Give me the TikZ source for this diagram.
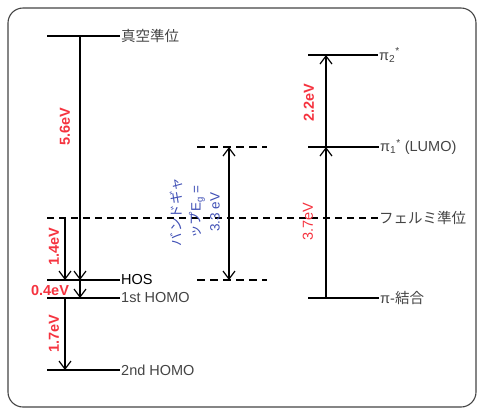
\documentclass[tikz,border=0pt]{standalone}
\usepackage{fontspec}
\setmainfont{Liberation Sans}
\newfontfamily\jpfont{Noto Sans CJK JP}
\usetikzlibrary{arrows.meta}
\definecolor{evred}{HTML}{F5333F}
\definecolor{gapblue}{HTML}{3F4FB5}
\definecolor{lvgray}{HTML}{444444}
\tikzset{
  level/.style={line width=1.7pt},
  fermi/.style={line width=1.7pt, dash pattern=on 7pt off 5pt},
  gapline/.style={line width=1.7pt, dash pattern=on 8pt off 5pt},
  down/.style={line width=1.2pt, -{Straight Barb[length=8pt,width=12pt]}},
  both/.style={line width=1.2pt, {Straight Barb[length=8pt,width=12pt]}-{Straight Barb[length=8pt,width=12pt]}},
  lvlabel/.style={anchor=west, inner sep=1pt, text=lvgray, font=\fontsize{14.5}{16}\selectfont},
  evlabel/.style={text=evred, inner sep=0pt, font=\bfseries\fontsize{14.5}{16}\selectfont},
}
\begin{document}
\begin{tikzpicture}[x=1pt,y=-1pt]
        \useasboundingbox (0,0) rectangle (477,408);
        % Draw frame
        \draw[lvgray, line width=1.1pt, rounded corners=15pt] (8,8) rectangle (476,407);

        % Draw level labels
        \node[lvlabel] (vac) at (120,36) {\jpfont 真空準位};
        \node[lvlabel, text=black] (hos) at (120,280) {HOS};
        \node[lvlabel] (homo1) at (120,298) {1st HOMO};
        \node[lvlabel] (homo2) at (120,370) {2nd HOMO};
        \node[lvlabel] (pi2) at (378,55) {π\textsubscript{2}\textsuperscript{*}};
        \node[lvlabel] (lumo) at (379,147) {π\textsubscript{1}\textsuperscript{*} (LUMO)};
        \node[lvlabel] (fermi) at (378,218) {\jpfont フェルミ準位};
        \node[lvlabel] (pib) at (379,298) {π-{\jpfont 結合}};

        % Draw left ends of the levels
        \coordinate (vacL) at (47,36);
        \coordinate (hosL) at (47,280);
        \coordinate (homo1L) at (47,298);
        \coordinate (homo2L) at (47,370);
        \coordinate (fermiL) at (47,218);
        \coordinate (pi2L) at (308,55);
        \coordinate (lumoL) at (308,147);
        \coordinate (pibL) at (308,298);

        % Draw levels
        \draw[level] (vacL) -- (vac.west);
        \draw[level] (hosL) -- (hos.west);
        \draw[level] (homo1L) -- (homo1.west);
        \draw[level] (homo2L) -- (homo2.west);
        \draw[level] (pi2L) -- (pi2.west);
        \draw[level, line width=2.3pt] (lumoL) -- (lumo.west);
        \draw[level] (pibL) -- (pib.west);
        \draw[fermi] (fermiL) -- (fermi.west);

        % Draw band gap edges
        \coordinate (cbL) at (197,147);
        \coordinate (cbR) at (267,147);
        \coordinate (vbL) at (197,280);
        \coordinate (vbR) at (267,280);
        \draw[gapline] (cbL) -- (cbR);
        \draw[gapline] (vbL) -- (vbR);

        % Draw arrow end points
        \coordinate (a1) at (80,36);
        \coordinate (a2) at (80,280);
        \coordinate (a3) at (80,298);
        \coordinate (b1) at (65,218);
        \coordinate (b2) at (65,280);
        \coordinate (b3) at (65,298);
        \coordinate (b4) at (65,370);
        \coordinate (g1) at (229,147);
        \coordinate (g2) at (229,280);
        \coordinate (p1) at (326,298);
        \coordinate (p2) at (326,147);
        \coordinate (p3) at (326,55);

        % Draw arrows
        \draw[down] (a1) -- (a2);
        \draw[down] (a2) -- (a3);
        \draw[down] (b1) -- (b2);
        \draw[down] (b3) -- (b4);
        \draw[both] (g1) -- (g2);
        \draw[down] (p1) -- (p2);
        \draw[down] (p2) -- (p3);

        % Draw energy labels
        \node[evlabel, rotate=90] (e56) at (65,127) {5.6eV};
        \node[evlabel, rotate=90] (e14) at (54,247) {1.4eV};
        \node[evlabel] (e04) at (50,291) {0.4eV};
        \node[evlabel, rotate=90] (e17) at (54,334) {1.7eV};
        \node[evlabel, rotate=90] (e22) at (309,103) {2.2eV};
        \node[evlabel, rotate=90, font=\fontsize{14.5}{16}\selectfont] (e37) at (308,222) {3.7eV};
        \node[rotate=90, text=gapblue, align=center, inner sep=0pt,
              font=\fontsize{13.5}{19}\selectfont] (eg) at (195,212)
              {{\jpfont バンドギャ}\\{\jpfont ップ}E\textsubscript{g} =\\3.3 eV};
    \end{tikzpicture}
\end{document}
